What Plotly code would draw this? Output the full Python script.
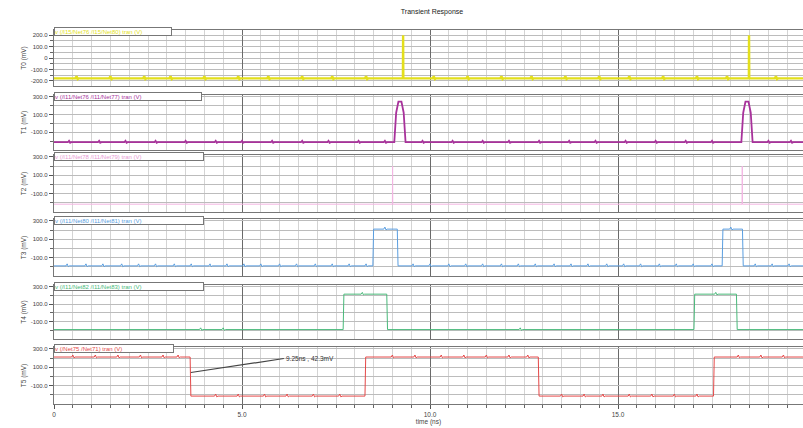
import numpy as np
import plotly.graph_objects as go

# ---------------- data ----------------
title_text = "Transient Response"
x_title = "time (ns)"
x_tickvals = [0, 5, 10, 15]
x_ticktext = ["0", "5.0", "10.0", "15.0"]

panel_titles = ["T0 (mV)", "T1 (mV)", "T2 (mV)", "T3 (mV)", "T4 (mV)", "T5 (mV)"]
legend_labels = [
    "v (/I15/Net76 /I15/Net80) tran (V)",
    "v (/I11/Net76 /I11/Net77) tran (V)",
    "v (/I11/Net78 /I11/Net79) tran (V)",
    "v (/I11/Net80 /I11/Net81) tran (V)",
    "v (/I11/Net82 /I11/Net83) tran (V)",
    "v (/Net75 /Net71) tran (V)",
]
p1_tickvals = [200, 100, 0, -100, -200]
p1_ticktext = ["200.0", "100.0", "0", "-100.0", "-200.0"]
pn_tickvals = [300, 100, -100]
pn_ticktext = ["300.0", "100.0", "-100.0"]
pn_minor = [200, 0, -200]

# T0 (yellow): baseline with narrow spikes
t0_t = [0, 9.28, 9.285, 9.29, 18.48, 18.485, 18.49, 19.92]
t0_v = [-178, -178, 200, -178, -178, 200, -178, -178]
t0_glitch = [0.6, 1.5, 2.4, 3.1, 4.0, 4.9, 5.7, 6.6, 7.4, 8.3, 10.1, 11.0, 11.9, 12.7,
             13.6, 14.5, 15.3, 16.2, 17.1, 17.9, 19.2]

# T1 (purple): baseline with rounded pulses
t1_t = [0, 9.05, 9.10, 9.16, 9.24, 9.30, 9.35, 18.28, 18.33, 18.39, 18.47, 18.53, 18.58, 19.92]
t1_v = [-212, -212, 120, 245, 245, 120, -212, -212, 120, 245, 245, 120, -212, -212]
t1_glitch = [0.4, 1.2, 1.9, 2.7, 3.5, 4.3, 5.0, 5.8, 6.6, 7.3, 8.1, 8.8, 9.8, 10.6, 11.4,
             12.1, 12.9, 13.7, 14.4, 15.2, 16.0, 16.8, 17.5, 19.0, 19.6]

# T2 (pink): faint baseline with faint spikes
t2_t = [0, 9.00, 9.005, 9.01, 18.30, 18.305, 18.31, 19.92]
t2_v = [-215, -215, 200, -215, -215, 200, -215, -215]
t2_glitch = []

# T3 (blue): pulses
t3_t = [0, 8.48, 8.50, 9.13, 9.15, 17.77, 17.79, 18.31, 18.33, 19.92]
t3_v = [-190, -190, 210, 210, -190, -190, 210, 210, -190, -190]
t3_glitch = [0.35, 0.85, 1.3, 1.8, 2.25, 2.7, 3.2, 3.65, 4.15, 4.6, 5.05, 5.5, 6.0, 6.45,
             6.95, 7.4, 7.85, 8.3, 8.8, 9.55, 10.0, 10.5, 10.95, 11.4, 11.9, 12.35, 12.8,
             13.3, 13.75, 14.2, 14.7, 15.15, 15.6, 16.1, 16.55, 17.0, 17.5, 18.0, 18.65,
             19.1, 19.55]

# T4 (green): pulses
t4_t = [0, 7.69, 7.71, 8.85, 8.87, 17.02, 17.04, 18.15, 18.17, 19.92]
t4_v = [-192, -192, 215, 215, -192, -192, 215, 215, -192, -192]
t4_glitch = [3.9, 4.5, 8.2, 12.4, 17.6]

# T5 (red): square wave
t5_t = [0, 3.62, 3.64, 8.27, 8.29, 12.88, 12.90, 17.54, 17.56, 19.92]
t5_v = [211, 211, -214, -214, 211, 211, -214, -214, 211, 211]
t5_glitch = [0.5, 1.1, 1.7, 2.3, 2.9, 3.3, 4.3, 4.9, 5.6, 6.2, 6.9, 7.6, 9.0, 9.6,
             10.3, 10.9, 11.5, 12.1, 12.6, 13.5, 14.1, 14.6, 15.3, 15.9, 16.5, 17.1,
             18.2, 18.8, 19.4]

marker_t, marker_v = 3.64, 42.3
marker_text = "9.25ns , 42.3mV"

series = [
    (t0_t, t0_v, t0_glitch, 18),
    (t1_t, t1_v, t1_glitch, 16),
    (t2_t, t2_v, t2_glitch, 0),
    (t3_t, t3_v, t3_glitch, 22),
    (t4_t, t4_v, t4_glitch, 20),
    (t5_t, t5_v, t5_glitch, 22),
]

# ---------------- style ----------------
colors = ["#e3df1c", "#a8329b", "#f3b6e3", "#5a9ee0", "#49b97a", "#e54848"]
widths = [2.4, 1.8, 1.0, 1.0, 1.0, 1.0]
plot_top, plot_bottom = 28, 404
frames = [(30, 86), (95, 150), (155, 212), (219, 276), (285, 339), (347, 404)]
ranges = [[-245, 245], [-300, 320], [-300, 320], [-300, 320], [-300, 320], [-300, 320]]
tab_widths = [116, 146, 148, 148, 148, 118]
H = plot_bottom - plot_top

FONT = "Liberation Sans, Arial, sans-serif"


def build(ts, vs, glitches, amp):
    base_t = np.array(ts, dtype=float)
    base_v = np.array(vs, dtype=float)
    xs = list(base_t)
    ys = list(base_v)
    for g in glitches:
        b = float(np.interp(g, base_t, base_v))
        xs += [g - 0.03, g, g + 0.03, g + 0.06]
        ys += [b, b + amp, b - amp * 0.4, b]
    order = np.argsort(xs, kind="stable")
    return np.array(xs)[order], np.array(ys)[order]


fig = go.Figure()
for i, (ts, vs, gl, amp) in enumerate(series):
    x, y = build(ts, vs, gl, amp)
    sfx = "" if i == 0 else str(i + 1)
    fig.add_trace(go.Scatter(x=x, y=y, mode="lines",
                             line=dict(color=colors[i], width=widths[i]),
                             xaxis="x" + sfx, yaxis="y" + sfx,
                             hoverinfo="skip", showlegend=False))

layout = dict(
    width=803, height=428,
    margin=dict(l=54, r=0, t=plot_top, b=428 - plot_bottom),
    paper_bgcolor="white", plot_bgcolor="white",
    font=dict(family=FONT, size=7, color="#444"),
    title=dict(text=title_text, x=432 / 803, xanchor="center",
               y=1 - 12 / 428, yanchor="middle",
               font=dict(family=FONT, size=7, color="#222")),
    showlegend=False,
)

for i in range(6):
    sfx = "" if i == 0 else str(i + 1)
    top, bot = frames[i]
    dom = [(plot_bottom - bot) / H, (plot_bottom - top) / H]
    last = i == 5
    xa = dict(
        domain=[0, 1], anchor="y" + sfx, range=[0, 19.92],
        tickmode="array", tickvals=x_tickvals, ticktext=x_ticktext,
        showticklabels=last, ticks="outside" if last else "", ticklen=4,
        tickcolor="#555", tickfont=dict(size=6.5, color="#444"),
        showgrid=True, gridcolor="#6a6a6a", gridwidth=1,
        minor=dict(dtick=0.5, tick0=0, showgrid=True, gridcolor="#d4d4d4",
                   ticks="outside" if last else "", ticklen=3, tickcolor="#666"),
        showline=True, mirror=True, linecolor="#777", linewidth=1.2,
        zeroline=False,
    )
    if i > 0:
        xa["matches"] = "x"
    if last:
        xa["title"] = dict(text=x_title, font=dict(size=6.5, color="#444"), standoff=1)
    layout["xaxis" + sfx] = xa

    if i == 0:
        tv, tt, mv = p1_tickvals, p1_ticktext, [150, 50, -50, -150]
    else:
        tv, tt, mv = pn_tickvals, pn_ticktext, pn_minor
    layout["yaxis" + sfx] = dict(
        domain=dom, anchor="x" + sfx, range=ranges[i],
        tickmode="array", tickvals=tv, ticktext=tt,
        ticks="outside", ticklen=4, tickcolor="#555",
        tickfont=dict(size=6, color="#444"),
        showgrid=True, gridcolor="#bcbcbc", gridwidth=1,
        minor=dict(tickvals=mv, showgrid=True, gridcolor="#bcbcbc",
                   ticks="outside", ticklen=3, tickcolor="#666"),
        showline=True, mirror=True, linecolor="#777", linewidth=1.2,
        zeroline=False,
        title=dict(text=panel_titles[i], font=dict(size=6.5, color="#444"), standoff=3),
    )

fig.update_layout(**layout)

for i in range(6):
    sfx = "" if i == 0 else str(i + 1)
    fig.add_annotation(
        xref="paper", yref="y" + sfx + " domain", x=0, y=1, xanchor="left", yanchor="top",
        yshift=3, text=legend_labels[i], showarrow=False, align="left",
        width=tab_widths[i], height=7,
        font=dict(family=FONT, size=6, color=colors[i] if i != 2 else "#e79ad3"),
        bgcolor="white", bordercolor="#777", borderwidth=1, borderpad=0,
    )

fig.add_annotation(
    x=marker_t, y=marker_v, xref="x6", yref="y6",
    text=marker_text, showarrow=True, arrowhead=0, arrowwidth=1.2, arrowcolor="#444",
    ax=93, ay=-14, xanchor="left", yanchor="middle",
    font=dict(family=FONT, size=6.5, color="#333"),
)

fig.write_html("out.html")
